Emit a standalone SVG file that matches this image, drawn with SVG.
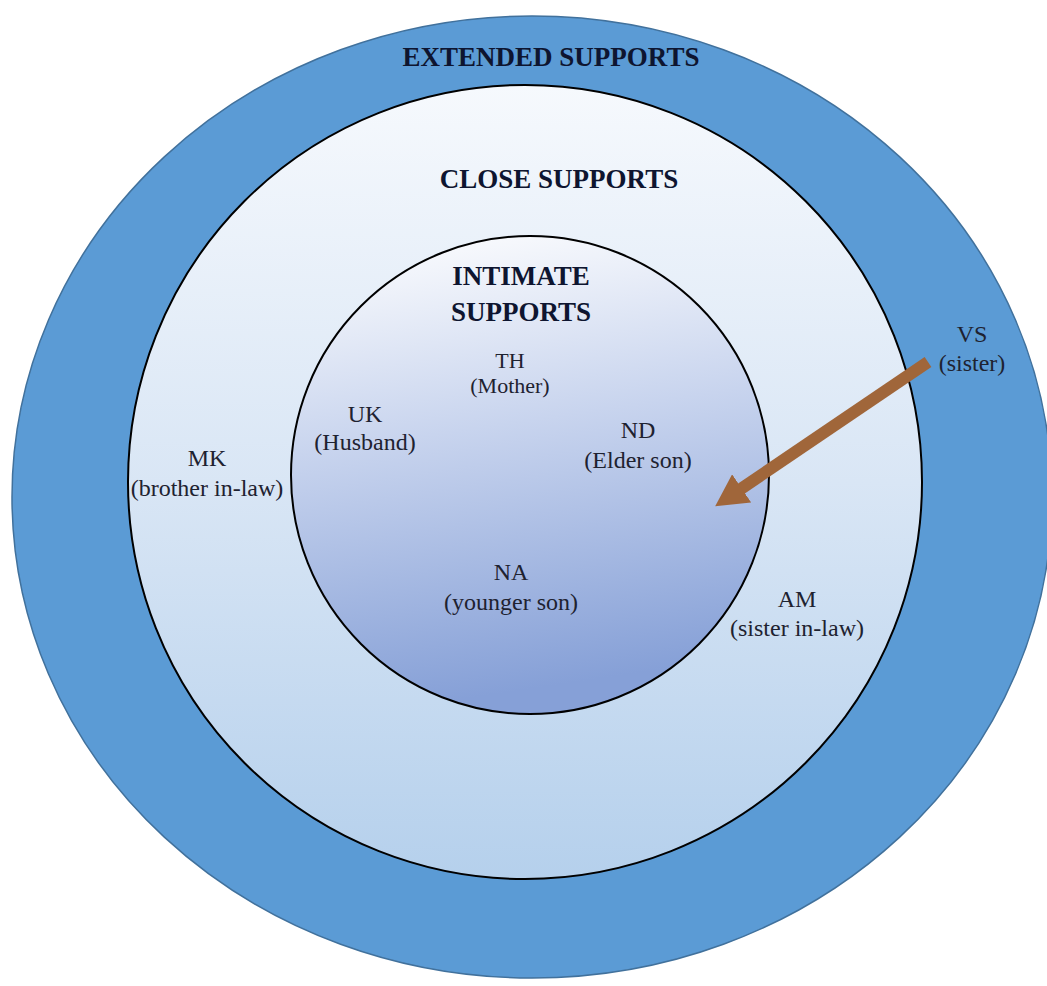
<svg xmlns="http://www.w3.org/2000/svg" width="1047" height="986" viewBox="0 0 1047 986">
<defs>
<linearGradient id="gClose" x1="0" y1="0" x2="0" y2="1">
<stop offset="0" stop-color="#F6F9FD"/>
<stop offset="0.5" stop-color="#D9E6F5"/>
<stop offset="1" stop-color="#B5D0EC"/>
</linearGradient>
<linearGradient id="gInt" x1="0" y1="0" x2="0.15" y2="1">
<stop offset="0" stop-color="#FFFFFF"/>
<stop offset="0.45" stop-color="#C8D4EE"/>
<stop offset="1" stop-color="#86A0D7"/>
</linearGradient>
<marker id="ah" viewBox="0 0 32 34" refX="2" refY="17" markerWidth="32" markerHeight="34" markerUnits="userSpaceOnUse" orient="auto">
<path d="M0,0 L32,17 L0,34 z" fill="#A0663A"/>
</marker>
<style>
text{font-family:'Liberation Serif','DejaVu Serif',serif}
.hdr{font-weight:bold;font-size:27px;fill:#0E1530;text-anchor:middle}
.lbl{font-size:24px;fill:#1E2230;text-anchor:middle}
.sm{font-size:22px;fill:#1E2230;text-anchor:middle}
</style>
</defs>
<rect width="1047" height="986" fill="#FFFFFF"/>
<g id="extended">
<ellipse cx="532" cy="497" rx="520" ry="481" fill="#5B9BD5" stroke="#41719C" stroke-width="1.5"/>
<text class="hdr" x="551" y="66" font-family="Liberation Serif, serif">EXTENDED SUPPORTS</text>
</g>
<g id="close">
<circle cx="525" cy="482" r="397" fill="url(#gClose)" stroke="#000000" stroke-width="2"/>
<text class="hdr" x="559" y="188">CLOSE SUPPORTS</text>
</g>
<g id="intimate">
<circle cx="530" cy="475" r="239" fill="url(#gInt)" stroke="#000000" stroke-width="2"/>
<text class="hdr" x="521" y="285">INTIMATE</text>
<text class="hdr" x="521" y="321">SUPPORTS</text>
</g>
<g id="th"><text class="sm" x="510" y="368">TH</text><text class="sm" x="510" y="393">(Mother)</text></g>
<g id="uk"><text class="lbl" x="365" y="422">UK</text><text class="lbl" x="365" y="450">(Husband)</text></g>
<g id="nd"><text class="lbl" x="638" y="438">ND</text><text class="lbl" x="638" y="468">(Elder son)</text></g>
<g id="mk"><text class="lbl" x="207" y="466">MK</text><text class="lbl" x="207" y="496">(brother in-law)</text></g>
<g id="na"><text class="lbl" x="511" y="580">NA</text><text class="lbl" x="511" y="610">(younger son)</text></g>
<g id="am"><text class="lbl" x="797" y="607">AM</text><text class="lbl" x="797" y="636">(sister in-law)</text></g>
<g id="vs"><text class="lbl" x="972" y="342">VS</text><text class="lbl" x="972" y="371">(sister)</text></g>
<g id="connectors">
<line x1="928" y1="362" x2="740" y2="489.5" stroke="#A0663A" stroke-width="12" marker-end="url(#ah)"/>
</g>
</svg>
